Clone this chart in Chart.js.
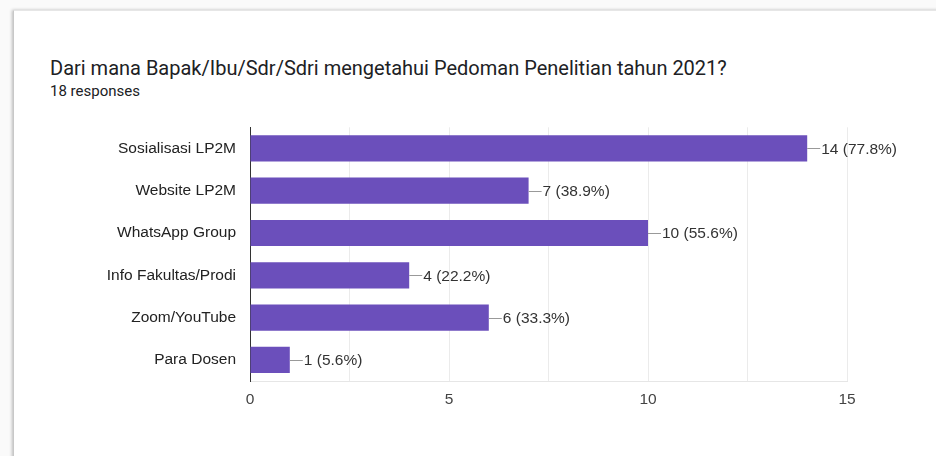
<!DOCTYPE html>
<html>
<head>
<meta charset="utf-8">
<script src="https://cdn.jsdelivr.net/npm/chart.js@4/dist/chart.umd.min.js"></script>
<style>
  body { margin: 0; width: 936px; height: 456px; background: #fafafa; overflow: hidden; position: relative; }
  .card { position: absolute; left: 13px; top: 10px; width: 1000px; height: 500px; background: #fff;
          border-left: 1px solid #c8c8c8; border-top: 1px solid #e6e6e6; box-shadow: -1px 0 3px rgba(0,0,0,0.25); }
  .title { position: absolute; left: 50px; top: 56px; font-family: Roboto, sans-serif; font-size: 20px; line-height: 24px; color: #202124; white-space: nowrap; }
  .sub { position: absolute; left: 50px; top: 82px; font-family: Roboto, sans-serif; font-size: 15px; line-height: 18px; color: #202124; }
  #wrap { position: absolute; left: 0; top: 104px; width: 936px; height: 352px; }
</style>
</head>
<body>
<div class="card"></div>
<div class="title">Dari mana Bapak/Ibu/Sdr/Sdri mengetahui Pedoman Penelitian tahun 2021?</div>
<div class="sub">18 responses</div>
<div id="wrap"><canvas id="chart"></canvas></div>
<script>
const categories = ["Sosialisasi LP2M", "Website LP2M", "WhatsApp Group", "Info Fakultas/Prodi", "Zoom/YouTube", "Para Dosen"];
const counts = [14, 7, 10, 4, 6, 1];
const totalResponses = 18;
const tickLabels = [0, 5, 10, 15];

const fontFamily = '"Liberation Sans", Arial, sans-serif';

// leader line + "n (p%)" after each bar
const valueLabels = {
  id: 'valueLabels',
  afterDatasetsDraw(chart) {
    const ctx = chart.ctx;
    const meta = chart.getDatasetMeta(0);
    ctx.save();
    ctx.font = '15.5px ' + fontFamily;
    ctx.textBaseline = 'middle';
    ctx.fillStyle = '#333';
    ctx.strokeStyle = '#999';
    ctx.lineWidth = 1;
    meta.data.forEach((bar, i) => {
      const v = counts[i];
      const pct = (v / totalResponses * 100).toFixed(1);
      ctx.beginPath();
      ctx.moveTo(bar.x, Math.round(bar.y) + 0.5);
      ctx.lineTo(bar.x + 13, Math.round(bar.y) + 0.5);
      ctx.stroke();
      ctx.fillText(v + ' (' + pct + '%)', bar.x + 14, bar.y + 1);
    });
    ctx.restore();
  }
};

new Chart(document.getElementById('chart'), {
  type: 'bar',
  data: {
    labels: categories,
    datasets: [{
      data: counts,
      backgroundColor: '#6b4fbb',
      borderWidth: 0,
      categoryPercentage: 1,
      barPercentage: 0.62
    }]
  },
  options: {
    indexAxis: 'y',
    responsive: true,
    maintainAspectRatio: false,
    animation: false,
    layout: { padding: { left: 0, top: 0, right: 89, bottom: 0 } },
    plugins: { legend: { display: false }, tooltip: { enabled: false } },
    scales: {
      x: {
        min: 0, max: 15,
        ticks: {
          stepSize: 2.5,
          padding: 9,
          color: '#444',
          font: { family: fontFamily, size: 15.5 },
          callback: (v) => tickLabels.includes(v) ? v : ''
        },
        grid: { color: '#ebebeb', drawTicks: false },
        border: { color: '#e6e6e6' },
        afterFit(scale) { scale.height = 75; }
      },
      y: {
        ticks: {
          padding: 14,
          color: '#222',
          font: { family: fontFamily, size: 15.5 }
        },
        grid: { display: false, drawTicks: false },
        border: { color: '#333', width: 1 },
        afterFit(scale) { scale.width = 250; }
      }
    }
  },
  plugins: [valueLabels]
});
</script>
</body>
</html>
